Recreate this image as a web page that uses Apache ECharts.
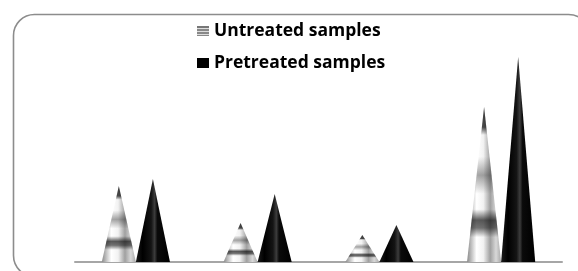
<!DOCTYPE html>
<html><head><meta charset="utf-8">
<script src="https://cdn.jsdelivr.net/npm/echarts@6/dist/echarts.min.js"></script>
<style>html,body{margin:0;padding:0;background:#fff}#c{width:578px;height:271px}</style>
</head><body><div id="c"></div>
<script>
var categories = ['1', '2', '3', '4'];
var untreated = [76, 39, 27, 155];
var pretreated = [83, 68, 37, 205];
var seriesNames = ['Untreated samples', 'Pretreated samples'];

function lg(x1, y1, x2, y2, stops) {
  return new echarts.graphic.LinearGradient(x1, y1, x2, y2, stops.map(function (s) { return { offset: s[0], color: s[1] }; }));
}
var untreatedBase = lg(0, 0, 1, 0, [[0, '#8a8a8a'], [0.28, '#ffffff'], [0.48, '#f2f2f2'], [0.68, '#a0a0a0'], [0.85, '#d8d8d8'], [1, '#a8a8a8']]);
var untreatedBands = lg(0, 0, 0, 1, [
  [0, 'rgba(0,0,0,0.75)'], [0.13, 'rgba(0,0,0,0.7)'], [0.18, 'rgba(0,0,0,0)'], [0.32, 'rgba(0,0,0,0)'],
  [0.44, 'rgba(0,0,0,0.35)'], [0.56, 'rgba(0,0,0,0)'], [0.66, 'rgba(0,0,0,0)'],
  [0.73, 'rgba(0,0,0,0.65)'], [0.78, 'rgba(0,0,0,0.55)'], [0.84, 'rgba(0,0,0,0)'], [1, 'rgba(0,0,0,0)']]);
var pretreatedFill = lg(0, 0, 1, 0, [[0, '#1a1a1a'], [0.2, '#000000'], [0.45, '#141414'], [0.55, '#3c3c3c'], [0.63, '#0a0a0a'], [1, '#000000']]);
var legendStripe = lg(0, 0, 0, 1, [[0, '#777'], [0.2, '#777'], [0.2, '#ddd'], [0.3, '#ddd'], [0.3, '#888'], [0.5, '#888'], [0.5, '#ddd'], [0.6, '#ddd'], [0.6, '#888'], [0.8, '#888'], [0.8, '#ddd'], [0.9, '#ddd'], [0.9, '#888'], [1, '#888']]);

var common = { type: 'pictorialBar', symbol: 'triangle', symbolSize: ['100%', '100%'], barGap: 0, barCategoryGap: '44%', silent: true, animation: false };

var chart = echarts.init(document.getElementById('c'), null, { renderer: 'canvas' });
chart.setOption({
  animation: false,
  graphic: [{ type: 'rect', shape: { x: 13.5, y: 14.5, width: 576, height: 262, r: 21 }, style: { fill: 'none', stroke: '#8c8c8c', lineWidth: 1.6 }, z: -1 }],
  legend: {
    orient: 'vertical', left: 197, top: 22, padding: 0, itemGap: 14, itemWidth: 12, itemHeight: 10,
    textStyle: { fontFamily: 'Open Sans', fontWeight: 'bold', fontSize: 17.5, color: '#000' },
    data: [
      { name: seriesNames[0], icon: 'rect', itemStyle: { color: legendStripe } },
      { name: seriesNames[1], icon: 'rect', itemStyle: { color: '#000' } }
    ]
  },
  grid: { left: 75, right: 16, top: 12, bottom: 9 },
  xAxis: [
    { type: 'category', data: categories, axisLine: { lineStyle: { color: '#a6a6a6', width: 2 } }, axisTick: { show: false }, axisLabel: { show: false } },
    { type: 'category', data: categories, show: false, position: 'bottom' }
  ],
  yAxis: { type: 'value', min: 0, max: 250, show: false, splitLine: { show: false } },
  series: [
    Object.assign({}, common, { name: seriesNames[0], xAxisIndex: 0, data: untreated, itemStyle: { color: untreatedBase } }),
    Object.assign({}, common, { name: seriesNames[1], xAxisIndex: 0, data: pretreated, itemStyle: { color: pretreatedFill } }),
    Object.assign({}, common, { name: 'bands', xAxisIndex: 1, data: untreated, itemStyle: { color: untreatedBands }, z: 3 }),
    Object.assign({}, common, { name: 'spacer', xAxisIndex: 1, data: [] })
  ]
});
</script></body></html>
